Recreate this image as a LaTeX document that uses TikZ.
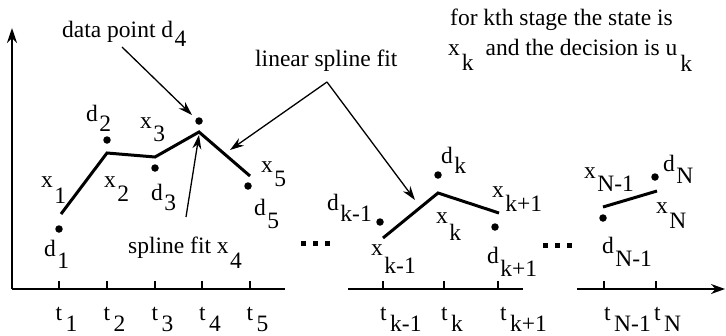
\documentclass[tikz,border=0pt]{standalone}
\usepackage{fontspec}
\setmainfont{Liberation Serif}
\usetikzlibrary{arrows.meta}
\newcommand{\mylsub}[3]{#1\hspace{1.5pt}\raisebox{-#3pt}{#2}}
\newcommand{\mytsub}[1]{t\hspace{3.5pt}\raisebox{-11pt}{#1}}
\begin{document}
\begin{tikzpicture}[x=1pt,y=-1pt,
  font=\fontsize{23.5}{28}\selectfont,
  lab/.style={anchor=base west, inner sep=0pt},
  dot/.style={circle, fill, inner sep=0pt, minimum size=7.5pt},
  ell/.style={rectangle, fill, inner sep=0pt, minimum size=5pt},
  ax/.style={line width=1.8pt},
  fitline/.style={line width=3pt},
  ptr/.style={line width=1.3pt, -{Stealth[length=14pt,width=9pt]}},
  tickmark/.style={line width=1.2pt}]
\useasboundingbox (0,0) rectangle (726,335);

% axes
\coordinate (o) at (12,289);
\coordinate (ytop) at (12,28);
\coordinate (a1e) at (285,289);
\coordinate (a2s) at (348,289);
\coordinate (a2e) at (523,289);
\coordinate (a3s) at (577,289);
\coordinate (a3e) at (725,289);
\draw[ax, -{Stealth[length=15pt,width=10pt]}] (o) -- (ytop);
\draw[ax] (o) -- (a1e);
\draw[ax] (a2s) -- (a2e);
\draw[ax, -{Stealth[length=14pt,width=10pt]}] (a3s) -- (a3e);

% ticks
\foreach \n/\x in {1/59,2/107,3/155,4/202,5/250,6/383,7/444,8/498,9/604,10/656}{
  \coordinate (tk\n) at (\x,289);
  \coordinate (tt\n) at (\x,281);
  \draw[tickmark] (tk\n) -- (tt\n);
}

% tick labels
\node[lab] (t1) at (55.5,320) {\mytsub{1}};
\node[lab] (t2) at (103.5,320) {\mytsub{2}};
\node[lab] (t3) at (151.5,320) {\mytsub{3}};
\node[lab] (t4) at (199,320) {\mytsub{4}};
\node[lab] (t5) at (246.5,320) {\mytsub{5}};
\node[lab] (tkm) at (380,320) {\mytsub{k-1}};
\node[lab] (tk) at (441,320) {\mytsub{k}};
\node[lab] (tkp) at (500,320) {\mytsub{k+1}};
\node[lab] (tNm) at (604,320) {\mytsub{N-1}};
\node[lab] (tN) at (654,320) {\mytsub{N}};

% data points
\node[dot] (d1) at (59,229) {};
\node[dot] (d2) at (107,140) {};
\node[dot] (d3) at (155,168) {};
\node[dot] (d4) at (199,121) {};
\node[dot] (d5) at (248,186) {};
\node[dot] (dkm) at (380,222) {};
\node[dot] (dk) at (438,175) {};
\node[dot] (dkp) at (495,227) {};
\node[dot] (dNm) at (603,218) {};
\node[dot] (dN) at (655,177) {};

% spline points
\coordinate (x1) at (61,214);
\coordinate (x2) at (107,153);
\coordinate (x3) at (155,157);
\coordinate (x4) at (199,132);
\coordinate (x5) at (250,176);
\coordinate (xkm) at (383,238);
\coordinate (xk) at (438,193);
\coordinate (xkp) at (499,213);
\coordinate (xNm) at (603,207);
\coordinate (xN) at (657,191);
\draw[fitline] (x1) -- (x2) -- (x3) -- (x4) -- (x5);
\draw[fitline] (xkm) -- (xk) -- (xkp);
\draw[fitline] (xNm) -- (xN);

% ellipses
\node[ell] (e1) at (303,243) {};
\node[ell] (e2) at (315,243) {};
\node[ell] (e3) at (327,243) {};
\node[ell] (e4) at (545,245) {};
\node[ell] (e5) at (557,245) {};
\node[ell] (e6) at (569,245) {};

% point labels
\node[lab] (ld1) at (44,256) {\mylsub{d}{1}{12}};
\node[lab] (lx1) at (41,187) {\mylsub{x}{1}{16}};
\node[lab] (ld2) at (86,121) {\mylsub{d}{2}{10}};
\node[lab] (lx2) at (104,187) {\mylsub{x}{2}{14}};
\node[lab] (lx3) at (140,128) {\mylsub{x}{3}{13}};
\node[lab] (ld3) at (151,200) {\mylsub{d}{3}{10}};
\node[lab] (lx5) at (261,172) {\mylsub{x}{5}{14}};
\node[lab] (ld5) at (254,215) {\mylsub{d}{5}{13}};
\node[lab] (ldkm) at (327,210) {\mylsub{d}{k-1}{11}};
\node[lab] (lxkm) at (371,255) {\mylsub{x}{k-1}{18}};
\node[lab] (ldk) at (441,163) {\mylsub{d}{k}{10}};
\node[lab] (lxk) at (436,223) {\mylsub{x}{k}{17}};
\node[lab] (lxkp) at (492,197) {\mylsub{x}{k+1}{14}};
\node[lab] (ldkp) at (487,263) {\mylsub{d}{k+1}{13}};
\node[lab] (lxNm) at (584,178) {\mylsub{x}{N-1}{13}};
\node[lab] (ldN) at (663,171) {\mylsub{d}{N}{12}};
\node[lab] (lxN) at (656,213) {\mylsub{x}{N}{15}};
\node[lab] (ldNm) at (602,253) {\mylsub{d}{N-1}{13}};

% annotations
\node[lab] (dp) at (62,37) {data point \mylsub{d}{4}{9}};
\node[lab] (ls) at (255,66) {linear spline fit};
\node[lab] (sf) at (128,253) {spline fit \mylsub{x}{4}{15}};
\node[lab] (st1) at (450,25) {for kth stage the state is};
\node[lab] (st2) at (448,55) {x\hspace{2pt}\raisebox{-15pt}{k}\hspace{6pt} and the decision is u\hspace{3pt}\raisebox{-16pt}{k}};

% pointers
\coordinate (dpA) at (122,47);
\coordinate (dpB) at (192,115);
\coordinate (sfA) at (186,217);
\coordinate (sfB) at (199,135);
\coordinate (lsTop) at (327,82);
\coordinate (lsL) at (230,150);
\coordinate (lsR) at (415,200);
\draw[ptr] (dpA) -- (dpB);
\draw[ptr] (sfA) -- (sfB);
\draw[ptr] (lsTop) -- (lsL);
\draw[ptr] (lsTop) -- (lsR);
\end{tikzpicture}
\end{document}
